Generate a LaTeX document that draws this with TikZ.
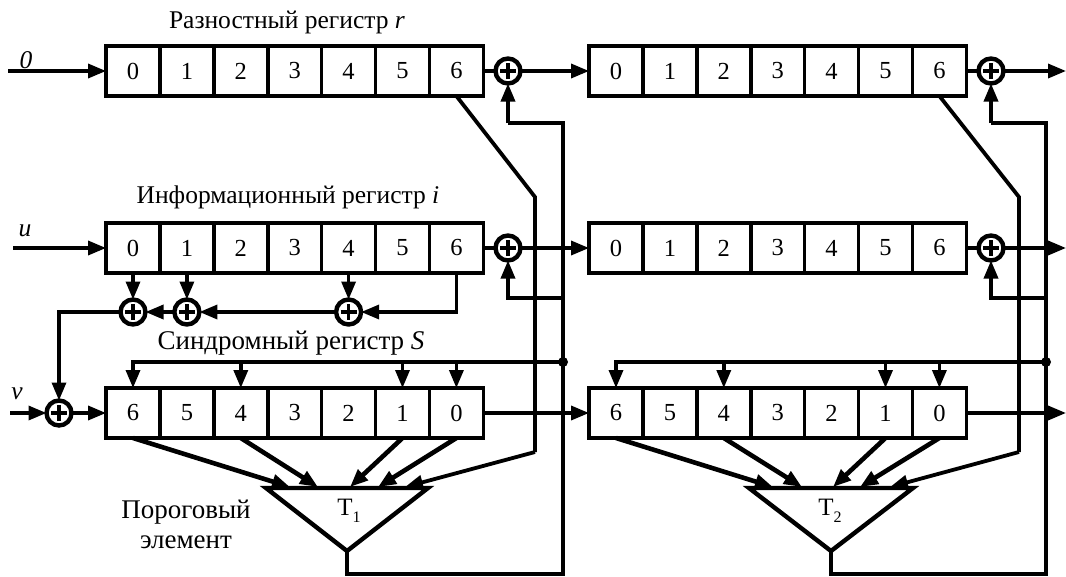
\documentclass[tikz,border=0pt]{standalone}
\usepackage{fontspec}
\setmainfont{Liberation Serif}
\usetikzlibrary{arrows.meta,calc}
\tikzset{
  x=1pt,y=-1pt,
  cellbox/.style={draw,line width=3.6pt,minimum width=53.9pt,minimum height=50pt,inner sep=0pt,font=\fontsize{24.5}{26}\selectfont,outer sep=0pt},
  adder/.style={circle,draw,line width=4.4pt,minimum size=25pt,inner sep=0pt,outer sep=0pt,
    path picture={\draw[line width=3.2pt] (path picture bounding box.center) ++(-8pt,0)--++(16pt,0)
      (path picture bounding box.center) ++(0,-8pt)--++(0,16pt);}},
  wire/.style={line width=3.4pt,line join=miter},
  arr/.style={wire,-{Triangle[length=18pt,width=14pt]}},
  thick arr/.style={line width=4.6pt,-{Triangle[length=18pt,width=14pt]}},
  lab/.style={font=\fontsize{25.5}{27}\selectfont,inner sep=0pt},
  labbig/.style={font=\fontsize{27}{29}\selectfont,inner sep=0pt},
  thr/.style={draw,line width=4.4pt,line join=miter},
  dotn/.style={circle,fill,inner sep=0pt,minimum size=10pt},
}
\begin{document}
\begin{tikzpicture}
\useasboundingbox (0,0) rectangle (1066,576);
\fill[white] (0,0) rectangle (1066,576);
% registers
\foreach \pre/\xo in {a/106,b/589}{
  \foreach \i/\t in {0/0,1/1,2/2,3/3,4/4,5/5,6/6}{
    \node[cellbox] (\pre r\i) at ({\xo+27+53.9*\i},71) {\t};
    \node[cellbox] (\pre i\i) at ({\xo+27+53.9*\i},248) {\t};
  }
  \foreach \i/\t in {0/6,1/5,2/4,3/3,4/2,5/1,6/0}{
    \node[cellbox] (\pre s\i) at ({\xo+27+53.9*\i},413) {\t};
  }
}
% adders
\node[adder] (addra) at (508,71) {};
\node[adder] (addia) at (508,248) {};
\node[adder] (addrb) at (991,71) {};
\node[adder] (addib) at (991,248) {};
\node[adder] (ax0) at (ai0 |- 0,312) {};
\node[adder] (ax1) at (ai1 |- 0,312) {};
\node[adder] (ax4) at (ai4 |- 0,312) {};
\node[adder] (addv) at (59,413) {};
% thresholds
\node[inner sep=0pt] (t1) at (349,511) {\fontsize{25}{26}\selectfont T\raisebox{-7pt}{\fontsize{16}{17}\selectfont 1}};
\node[inner sep=0pt] (t2) at (830,511) {\fontsize{25}{26}\selectfont T\raisebox{-7pt}{\fontsize{16}{17}\selectfont 2}};
\coordinate (apa) at (347,551);
\coordinate (apb) at (831,551);
\draw[thr] (266,488) -- (428,488) -- (apa) -- cycle;
\draw[thr] (749,488) -- (913,488) -- (apb) -- cycle;
% free ends and bends
\coordinate (in0) at (8,71);
\coordinate (inu) at (13,248);
\coordinate (inv) at (10,413);
\coordinate (outr) at (1066,71);
\coordinate (outi) at (1066,248);
\coordinate (outs) at (1066,413);
% inputs
\draw[arr] (in0) -- (ar0.west);
\draw[arr] (inu) -- (ai0.west);
\draw[arr] (inv) -- (addv.west);
\draw[arr] (addv.east) -- (as0.west);
% between registers
\draw[wire] (ar6.east) -- (addra.west);
\draw[wire] (ai6.east) -- (addia.west);
\draw[arr] (addra.east) -- (br0.west);
\draw[arr] (addia.east) -- (bi0.west);
\draw[arr] (as6.east) -- (bs0.west);
\draw[wire] (br6.east) -- (addrb.west);
\draw[wire] (bi6.east) -- (addib.west);
\draw[arr] (addrb.east) -- (outr);
\draw[arr] (addib.east) -- (outi);
\draw[arr] (bs6.east) -- (outs);
% info taps
\draw[arr] (ai0.south) -- (ax0.north);
\draw[arr] (ai1.south) -- (ax1.north);
\draw[arr] (ai4.south) -- (ax4.north);
\draw[arr] (ai6.south) |- (ax4.east);
\draw[arr] (ax4.west) -- (ax1.east);
\draw[arr] (ax1.west) -- (ax0.east);
\draw[arr] (ax0.west) -| (addv.north);
% syndrome feedback
\coordinate (fa) at (563,362);
\coordinate (fb) at (1046,362);
\node[dotn] (da) at (fa) {};
\node[dotn] (db) at (fb) {};
\foreach \pre/\dn in {a/da,b/db}{
  \draw[arr] (\dn.center) -| (\pre s0.north);
  \draw[arr] (\pre s2.north |- \dn.center) -- (\pre s2.north);
  \draw[arr] (\pre s5.north |- \dn.center) -- (\pre s5.north);
  \draw[arr] (\pre s6.north |- \dn.center) -- (\pre s6.north);
}
% threshold outputs and feedback
\draw[wire] (apa) |- (563,574) -- (563,123) -- (508,123);
\draw[arr] (508,123) -- (addra.south);
\draw[wire] (apb) |- (1046,574) -- (1046,123) -- (991,123);
\draw[arr] (991,123) -- (addrb.south);
\draw[arr] (563,298) -| (addia.south);
\draw[arr] (1046,298) -| (addib.south);
% r output to threshold
\coordinate (ba1) at (535,197);
\coordinate (ba2) at (535,452);
\coordinate (bb1) at (1019,197);
\coordinate (bb2) at (1019,452);
\draw[wire,line width=3.8pt] (ar6.south) -- (ba1) -- (ba2);
\draw[thick arr,line width=3.8pt] (ba2) -- (405,487);
\draw[wire,line width=3.8pt] (br6.south) -- (bb1) -- (bb2);
\draw[thick arr,line width=3.8pt] (bb2) -- (890,487);
% syndrome to threshold
\draw[thick arr] (as0.south) -- (290,487);
\draw[thick arr] (as2.south) -- (318,487);
\draw[thick arr] (as5.south) -- (350,487);
\draw[thick arr] (as6.south) -- (378,487);
\draw[thick arr] (bs0.south) -- (773,487);
\draw[thick arr] (bs2.south) -- (802,487);
\draw[thick arr] (bs5.south) -- (833,487);
\draw[thick arr] (bs6.south) -- (860,487);
% labels
\node[lab] (l1) at (287,22) {Разностный регистр \textit{r}};
\node[lab] (l2) at (288,197) {Информационный регистр \textit{i}};
\node[labbig] (l3) at (291,343) {Синдромный регистр \textit{S}};
\node[labbig] (l4) at (186,512) {Пороговый};
\node[labbig] (l5) at (186,542) {элемент};
\node[lab] (l6) at (26,60) {\textit{0}};
\node[lab] (l7) at (25,231) {\textit{u}};
\node[lab] (l8) at (17,394) {\textit{v}};
\end{tikzpicture}
\end{document}
